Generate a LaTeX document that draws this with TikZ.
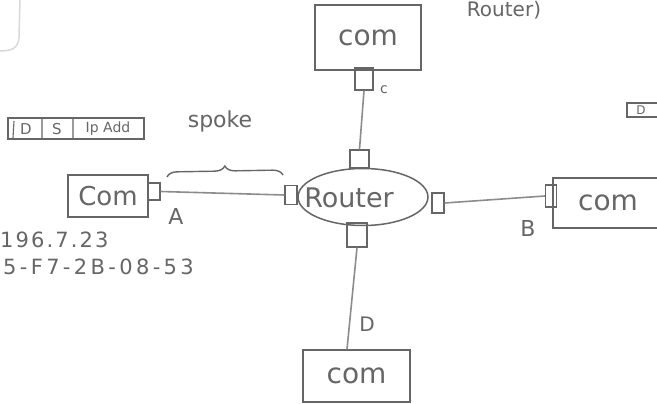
\documentclass[tikz,border=0pt]{standalone}
\usepackage{fontspec}
\setmainfont{DejaVu Sans}
\usetikzlibrary{shapes.geometric,decorations.pathreplacing}
\definecolor{ink}{HTML}{666666}
\definecolor{wire}{HTML}{8C8C8C}
\tikzset{
  combox/.style={draw=ink, line width=1.5pt, inner sep=0pt, text=ink, font=\fontsize{28}{30}\selectfont},
  port/.style={draw=ink, line width=1.3pt, inner sep=0pt},
  routershape/.style={ellipse, draw=ink, line width=1.5pt, inner sep=0pt, text=ink},
  wireline/.style={draw=wire, line width=1.6pt},
  lbl/.style={text=ink, inner sep=0pt},
}
\begin{document}
\begin{tikzpicture}[x=1pt,y={(0pt,-1pt)}]
\useasboundingbox (0,0) rectangle (657,404);
\fill[white] (0,0) rectangle (657,404);

% faint corner at top-left
\draw[gray!30, line width=1.5pt] (20,0) -- (19,38) .. controls (18,48) and (12,51) .. (0,51);

% header box
\node[draw=ink, line width=1.1pt, minimum width=136pt, minimum height=21pt, inner sep=0pt] (hdr) at (76,128.5) {};
\draw[ink, line width=1.1pt] (42,118) -- (42,139) (73,118) -- (73,139) (14,121) -- (13,138);
\node[lbl, font=\fontsize{15}{16}\selectfont] (hD) at (26,129) {D};
\node[lbl, font=\fontsize{15}{16}\selectfont] (hS) at (57,129) {S};
\node[lbl, font=\fontsize{14}{16}\selectfont] (hIP) at (108,129) {Ip Add};

% spoke label and brace
\node[lbl, font=\fontsize{22}{24}\selectfont] (spoke) at (220,121) {spoke};
\coordinate (brL) at (167,177);
\coordinate (brR) at (283,175);
\draw[ink, line width=1.4pt, decorate, decoration={brace, amplitude=10pt}] (brL) -- (brR);

% computers
\node[combox, minimum width=80pt, minimum height=42pt, font=\fontsize{26}{28}\selectfont] (comA) at (108,196) {Com};
\node[combox, minimum width=106pt, minimum height=65pt] (comT) at (368,37.5) {com};
\node[combox, minimum width=110pt, minimum height=50pt] (comB) at (608,203) {com};
\node[combox, minimum width=107pt, minimum height=52pt] (comD) at (356.5,376) {com};

% router
\node[routershape, minimum width=130pt, minimum height=57pt] (router) at (363,197) {};
\node[lbl, font=\fontsize{27}{30}\selectfont] (rtext) at (349,198) {Router};

% ports
\node[port, minimum width=12pt, minimum height=17pt] (pA) at (154,191.5) {};
\node[port, minimum width=12pt, minimum height=19pt] (rL) at (291,195) {};
\node[port, minimum width=19pt, minimum height=18pt] (rT) at (359.5,159) {};
\node[port, minimum width=20pt, minimum height=24pt] (rB) at (357,235) {};
\node[port, minimum width=12pt, minimum height=20pt] (rR) at (438,203) {};
\node[port, minimum width=11pt, minimum height=22pt] (pB) at (551,196) {};
\node[port, minimum width=18pt, minimum height=22pt] (pT) at (364,79) {};

% links
\draw[wireline] (pA.east) -- (rL.west);
\draw[wireline] (rR.east) -- (pB.west);
\draw[wireline] (pT.south) -- (rT.north);
\draw[wireline] (rB.south) -- (comD.north -| 347,0);

% link labels
\node[lbl, font=\fontsize{22}{24}\selectfont] (lA) at (176,216) {A};
\node[lbl, font=\fontsize{22}{24}\selectfont] (lB) at (528,228) {B};
\node[lbl, font=\fontsize{14}{16}\selectfont] (lC) at (384,90) {c};
\node[lbl, font=\fontsize{20}{22}\selectfont] (lD) at (367,324) {D};

% addresses
\node[lbl, anchor=west, font=\fontsize{21}{23}\selectfont\addfontfeature{LetterSpace=10}] (ip) at (0,240) {196.7.23};
\node[lbl, anchor=west, font=\fontsize{21}{23}\selectfont\addfontfeature{LetterSpace=16}] (mac) at (3,267) {5-F7-2B-08-53};

% top right text
\node[lbl, font=\fontsize{20}{22}\selectfont] (rtop) at (504,10) {Router)};
\node[draw=ink, line width=1.1pt, minimum width=34pt, minimum height=14pt, inner sep=0pt] (boxD) at (644,110) {};
\node[lbl, font=\fontsize{12}{14}\selectfont] (boxDt) at (641,110) {D};
\end{tikzpicture}
\end{document}
